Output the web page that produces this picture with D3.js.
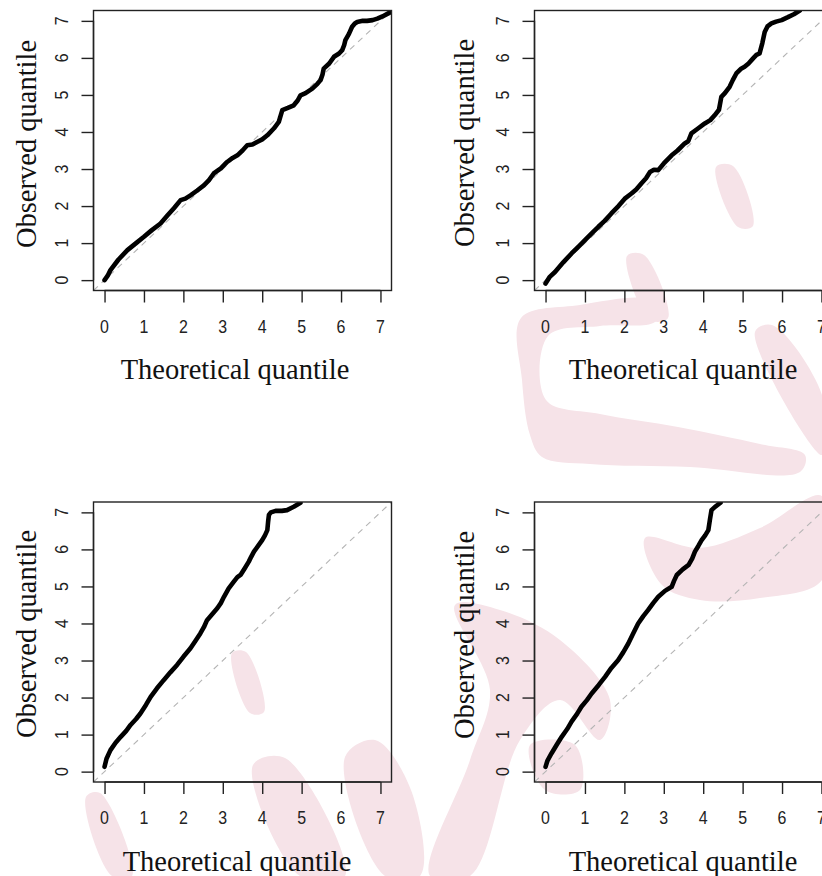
<!DOCTYPE html>
<html><head><meta charset="utf-8">
<script src="https://cdn.jsdelivr.net/npm/d3@7"></script>
<style>body{margin:0;background:#fff;overflow:hidden}</style>
</head><body>
<svg id="c" width="822" height="876"></svg>
<script>
// ---------- data ----------
const tickValues = [0,1,2,3,4,5,6,7];
const xTitle = "Theoretical quantile";
const yTitle = "Observed quantile";

const p1Theo = [0,0.08,0.15,0.35,0.58,0.8,1.0,1.2,1.42,1.6,1.76,1.93,2.05,2.18,2.35,2.52,2.65,2.77,2.95,3.11,3.25,3.37,3.5,3.62,3.75,3.87,4.0,4.13,4.3,4.42,4.47,4.51,4.65,4.8,4.9,4.97,5.1,5.27,5.4,5.48,5.53,5.56,5.7,5.82,5.95,6.03,6.08,6.11,6.2,6.28,6.35,6.41,6.55,6.66,6.8,6.92,7.05,7.21,7.35];
const p1Obs  = [0,0.12,0.27,0.55,0.81,1.0,1.17,1.35,1.53,1.75,1.94,2.16,2.2,2.29,2.42,2.56,2.7,2.88,3.02,3.19,3.3,3.37,3.5,3.64,3.66,3.73,3.8,3.91,4.1,4.27,4.45,4.59,4.65,4.72,4.85,4.99,5.05,5.17,5.3,5.4,5.55,5.71,5.85,6.03,6.12,6.21,6.35,6.48,6.65,6.84,6.93,6.97,7.0,7.0,7.02,7.06,7.12,7.21,7.28];

const p2Theo = [0,0.1,0.24,0.45,0.66,0.85,1.0,1.17,1.34,1.5,1.67,1.85,2.01,2.18,2.3,2.43,2.55,2.65,2.75,2.86,3.0,3.2,3.35,3.53,3.62,3.7,3.85,4.04,4.18,4.29,4.4,4.46,4.55,4.67,4.75,4.84,4.95,5.05,5.15,5.26,5.35,5.43,5.5,5.56,5.63,5.73,5.85,5.99,6.15,6.3,6.45];
const p2Obs  = [-0.09,0.08,0.22,0.48,0.72,0.92,1.08,1.26,1.44,1.6,1.8,2.0,2.2,2.34,2.45,2.61,2.75,2.92,2.98,2.97,3.15,3.37,3.5,3.69,3.75,3.96,4.08,4.23,4.32,4.45,4.6,4.95,5.05,5.22,5.4,5.58,5.7,5.76,5.85,5.98,6.08,6.12,6.4,6.7,6.85,6.93,6.98,7.02,7.1,7.18,7.28];

const p3Theo = [0,0.05,0.15,0.28,0.41,0.55,0.66,0.8,0.91,1.05,1.17,1.33,1.5,1.67,1.84,2.0,2.18,2.3,2.43,2.52,2.6,2.73,2.86,2.95,3.03,3.15,3.28,3.37,3.45,3.55,3.66,3.72,3.79,3.9,4.0,4.07,4.13,4.15,4.17,4.22,4.34,4.5,4.63,4.8,4.97];
const p3Obs  = [0.13,0.35,0.58,0.78,0.94,1.1,1.26,1.42,1.57,1.8,2.02,2.25,2.47,2.68,2.88,3.1,3.33,3.52,3.73,3.9,4.09,4.25,4.41,4.55,4.72,4.95,5.13,5.25,5.31,5.48,5.67,5.8,5.94,6.1,6.25,6.38,6.52,6.75,6.93,7.0,7.04,7.04,7.06,7.15,7.26];

const p4Theo = [0,0.05,0.15,0.28,0.41,0.55,0.66,0.8,0.91,1.05,1.17,1.35,1.51,1.67,1.84,1.97,2.1,2.22,2.35,2.48,2.6,2.73,2.86,3.03,3.2,3.26,3.33,3.48,3.63,3.72,3.79,3.88,3.96,4.05,4.13,4.17,4.21,4.3,4.44];
const p4Obs  = [0.13,0.3,0.49,0.72,0.94,1.15,1.35,1.56,1.75,1.93,2.11,2.34,2.56,2.8,3.01,3.22,3.46,3.72,4.0,4.2,4.36,4.55,4.72,4.88,4.99,5.15,5.31,5.46,5.58,5.75,5.94,6.1,6.25,6.38,6.52,6.8,7.06,7.15,7.26];

const panels = [
  {theo:p1Theo, obs:p1Obs, left:93.5, top:10.5, xlabCx:235, ylabCy:144, ylabX:36},
  {theo:p2Theo, obs:p2Obs, left:534.5, top:10.5, xlabCx:683, ylabCy:143, ylabX:474},
  {theo:p3Theo, obs:p3Obs, left:93.5, top:502, xlabCx:237, ylabCy:634, ylabX:36},
  {theo:p4Theo, obs:p4Obs, left:534.5, top:502, xlabCx:683, ylabCy:635, ylabX:474}
];

// decorative watermark strokes (background, not data)
const watermark = [
  [[716,167],[733,166],[753,226],[738,227]],
  [[627,256],[644,255],[668,318],[650,320]],
  [[521,318],[580,305],[644,298],[662,306],[655,322],[600,326],[548,336],[546,400],[600,414],[678,427],[760,444],[805,455],[800,472],[690,467],[590,464],[542,457],[530,435],[522,380]],
  [[755,332],[772,325],[822,395],[822,455]],
  [[645,538],[700,548],[760,528],[822,496],[822,580],[760,598],[700,600],[662,585]],
  [[232,653],[246,652],[264,712],[250,713]],
  [[86,797],[100,793],[132,876],[112,876]],
  [[253,765],[285,758],[345,876],[300,876]],
  [[345,757],[375,740],[411,790],[420,876],[385,876]],
  [[455,605],[500,610],[560,640],[610,700],[600,740],[560,700],[520,740],[470,876],[430,876],[470,760],[490,690]],
  [[530,745],[575,745],[580,790],[545,790]]
];

// ---------- drawing ----------
const svg = d3.select("#c");
const W = 298, H = 280;
const dom = [-0.28, 7.28];

svg.append("g").selectAll("path").data(watermark).join("path")
  .attr("d", d => d3.line().curve(d3.curveCatmullRomClosed.alpha(0.5))(d))
  .attr("fill", "#f6e3e8");

panels.forEach((p, i) => {
  const x = d3.scaleLinear().domain(dom).range([p.left, p.left + W]);
  const y = d3.scaleLinear().domain(dom).range([p.top + H, p.top]);
  const g = svg.append("g");
  const cid = "clip" + i;
  g.append("clipPath").attr("id", cid).append("rect")
    .attr("x", p.left).attr("y", p.top).attr("width", W).attr("height", H);

  // reference line y = x
  g.append("line").attr("clip-path", `url(#${cid})`)
    .attr("x1", x(dom[0])).attr("y1", y(dom[0]))
    .attr("x2", x(dom[1])).attr("y2", y(dom[1]))
    .attr("stroke", "#b4b4b4").attr("stroke-width", 1.1)
    .attr("stroke-dasharray", "6,5");

  // QQ points
  const pts = p.theo.map((t, k) => [t, p.obs[k]]);
  g.append("path").attr("clip-path", `url(#${cid})`)
    .attr("d", d3.line().x(d => x(d[0])).y(d => y(d[1]))(pts))
    .attr("fill", "none").attr("stroke", "#000")
    .attr("stroke-width", 4.6).attr("stroke-linejoin", "round").attr("stroke-linecap", "round");

  // box
  g.append("rect").attr("x", p.left).attr("y", p.top).attr("width", W).attr("height", H)
    .attr("fill", "none").attr("stroke", "#222").attr("stroke-width", 1.4);

  // x axis
  const xa = g.append("g").attr("transform", `translate(0,${p.top + H})`)
    .call(d3.axisBottom(x).tickValues(tickValues).tickSize(12).tickFormat(""));
  xa.select(".domain").attr("d", `M${x(0)},0H${x(7)}`).attr("stroke", "#222").attr("stroke-width", 1.4);
  xa.selectAll(".tick line").attr("stroke", "#222").attr("stroke-width", 1.4);
  g.selectAll(null).data(tickValues).join("text")
    .attr("transform", d => `translate(${x(d)},${p.top + H + 42}) scale(0.84,1)`)
    .attr("text-anchor", "middle")
    .attr("font-family", "'Liberation Sans', Arial, sans-serif")
    .attr("font-size", 19).attr("fill", "#222").text(d => d);

  // y axis
  const ya = g.append("g").attr("transform", `translate(${p.left},0)`)
    .call(d3.axisLeft(y).tickValues(tickValues).tickSize(12).tickFormat(""));
  ya.select(".domain").attr("d", `M0,${y(0)}V${y(7)}`).attr("stroke", "#222").attr("stroke-width", 1.4);
  ya.selectAll(".tick line").attr("stroke", "#222").attr("stroke-width", 1.4);
  g.selectAll(null).data(tickValues).join("text")
    .attr("transform", d => `translate(${p.left - 25.5},${y(d)}) rotate(-90) scale(0.84,1)`)
    .attr("text-anchor", "middle")
    .attr("font-family", "'Liberation Sans', Arial, sans-serif")
    .attr("font-size", 19).attr("fill", "#222").text(d => d);

  // titles
  g.append("text").attr("x", p.xlabCx).attr("y", p.top + H + 88.5)
    .attr("text-anchor", "middle")
    .attr("font-family", "'Liberation Serif', 'Times New Roman', serif")
    .attr("font-size", 28.5).attr("fill", "#111").text(xTitle);
  g.append("text").attr("transform", `translate(${p.ylabX},${p.ylabCy}) rotate(-90)`)
    .attr("text-anchor", "middle")
    .attr("font-family", "'Liberation Serif', 'Times New Roman', serif")
    .attr("font-size", 28.5).attr("fill", "#111").text(yTitle);
});
</script>
</body></html>
